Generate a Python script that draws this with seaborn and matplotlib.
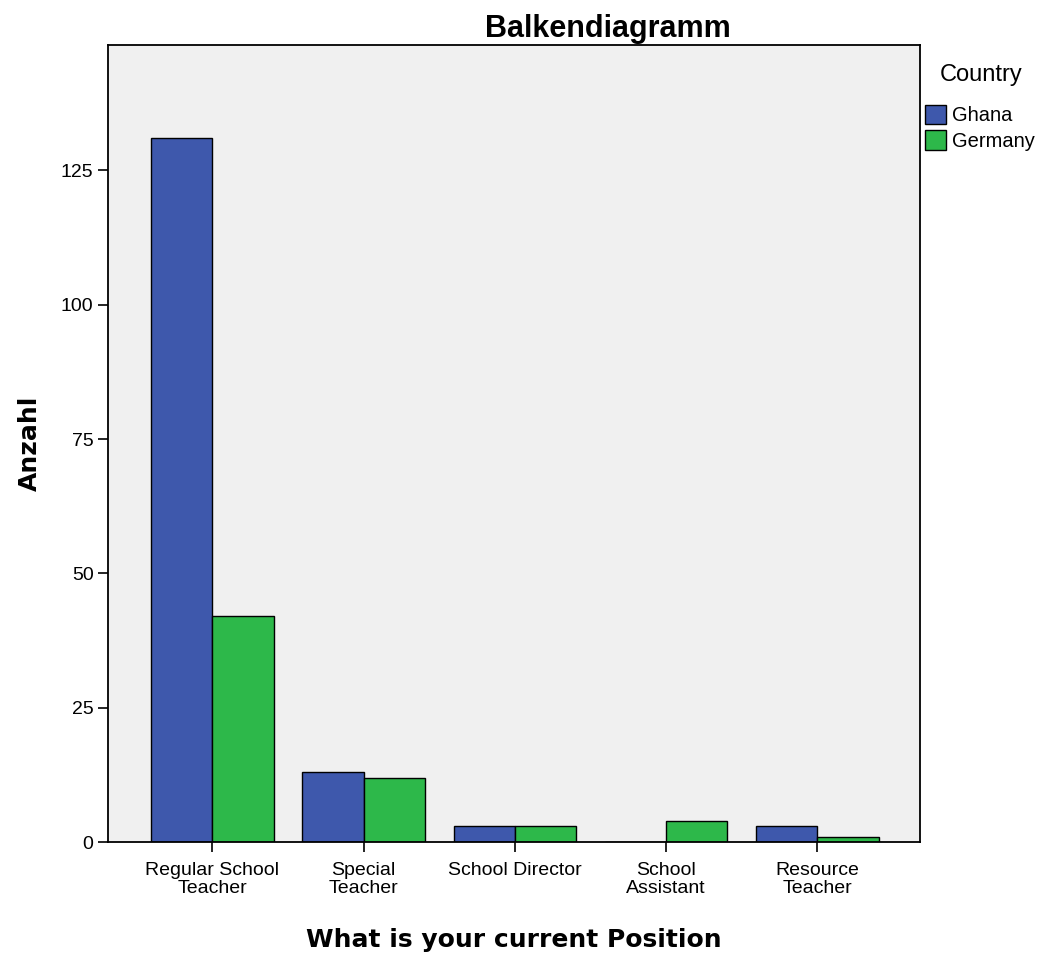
import pandas as pd
import numpy as np
import matplotlib.pyplot as plt
import seaborn as sns

# data
positions = ["Regular School\nTeacher", "Special\nTeacher", "School Director",
             "School\nAssistant", "Resource\nTeacher"]
ghana = [131, 13, 3, 0, 3]
germany = [42, 12, 3, 4, 1]
countries = ["Ghana", "Germany"]
colors = ["#3E58AC", "#2DB84A"]

df = pd.DataFrame({
    "Position": positions * 2,
    "Country": ["Ghana"] * len(positions) + ["Germany"] * len(positions),
    "Anzahl": ghana + germany,
})

sns.set_style("white")
plt.rcParams["font.family"] = ["Liberation Sans", "DejaVu Sans"]
plt.rcParams["text.color"] = "black"
plt.rcParams["axes.labelcolor"] = "black"
plt.rcParams["xtick.color"] = "black"
plt.rcParams["ytick.color"] = "black"

fig = plt.figure(figsize=(10.4, 9.55), dpi=100)
ax = fig.add_axes([0.104, 0.118, 0.781, 0.835])
ax.set_facecolor("#F0F0F0")

sns.barplot(data=df, x="Position", y="Anzahl", hue="Country",
            hue_order=countries, palette=colors, width=0.81,
            edgecolor="black", linewidth=1, saturation=1, ax=ax)

ax.set_xlim(-0.689, 4.682)
ax.set_ylim(0, 148.3)
ax.set_yticks([0, 25, 50, 75, 100, 125])
ax.tick_params(axis="both", direction="out", length=7, width=1.2,
               labelsize=14, color="black", bottom=True, left=True)
ax.tick_params(axis="x", pad=7)
for lab in ax.get_xticklabels():
    lab.set_linespacing(1.1)
for sp in ax.spines.values():
    sp.set_color("black")
    sp.set_linewidth(1.3)

ax.set_title("Balkendiagramm", fontsize=22, fontweight="bold", pad=6, x=0.615)
ax.set_xlabel("What is your current Position", fontsize=18, fontweight="bold",
              labelpad=22, family="DejaVu Sans")
ax.set_ylabel("Anzahl", fontsize=18, fontweight="bold", labelpad=14,
              family="DejaVu Sans")

# legend title drawn separately to get the wider gap above the entries
fig.text(0.943, 0.921, "Country", ha="center", va="center", fontsize=17)
ax.legend(loc="upper left", bbox_to_anchor=(1.006, 0.925),
          frameon=False, fontsize=14.5,
          handlelength=1.05, handleheight=1.1, handletextpad=0.3,
          borderaxespad=0.0, borderpad=0.0, labelspacing=0.25)

fig.savefig("out.png", dpi=100)
